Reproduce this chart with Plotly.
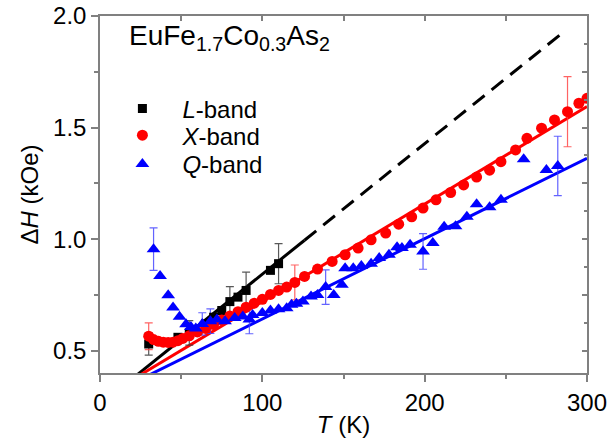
import plotly.graph_objects as go

# ---------------- data ----------------
L_T = [30, 48, 55, 65, 70, 75, 80, 85, 90, 105, 110]
L_H = [0.53, 0.56, 0.58, 0.62, 0.65, 0.68, 0.72, 0.74, 0.77, 0.86, 0.89]
L_err = [0.05, 0, 0.055, 0, 0, 0, 0.067, 0, 0.082, 0, 0.09]

X_T = [30, 33, 36, 39, 42, 45, 48, 51, 55, 60, 65, 70, 75, 80, 85, 90, 95, 100,
       105, 110, 115, 120, 126, 134, 143, 151, 159, 167, 176, 184, 192, 199, 207,
       216, 224, 232, 240, 247, 256, 263, 272, 280, 288, 295, 300]
X_H = [0.565, 0.55, 0.542, 0.538, 0.537, 0.538, 0.545, 0.555, 0.567, 0.584, 0.60,
       0.617, 0.638, 0.655, 0.675, 0.695, 0.713, 0.73, 0.752, 0.77, 0.785, 0.806,
       0.833, 0.866, 0.90, 0.93, 0.96, 0.997, 1.027, 1.067, 1.10, 1.139, 1.176,
       1.209, 1.243, 1.278, 1.309, 1.347, 1.40, 1.452, 1.497, 1.534, 1.571, 1.609, 1.631]
X_err = {30: 0.06, 120: 0.078, 288: 0.157}

Q_T = [33, 37, 42, 45, 49, 53, 56, 59, 63, 68, 72, 77, 83, 88, 92, 94, 100, 105,
       110, 115, 118, 121, 125, 130, 134, 139, 144, 149, 151, 156, 161, 167, 172,
       178, 183, 186, 191, 199, 205, 212, 219, 226, 232, 240, 247, 261, 275, 282]
Q_H = [0.955, 0.835, 0.748, 0.693, 0.652, 0.618, 0.606, 0.60, 0.62, 0.632, 0.64,
       0.632, 0.646, 0.653, 0.64, 0.66, 0.669, 0.68, 0.686, 0.69, 0.706, 0.71, 0.72,
       0.743, 0.75, 0.785, 0.75, 0.795, 0.87, 0.87, 0.88, 0.89, 0.915, 0.93, 0.964,
       0.96, 0.975, 0.945, 0.983, 1.055, 1.058, 1.10, 1.156, 1.143, 1.176, 1.358,
       1.31, 1.328]
Q_err = {33: 0.095, 63: 0.05, 68: 0.055, 92: 0.064, 139: 0.077, 199: 0.08, 282: 0.133}

# linear fits  H = a + b*T
L_fit = (0.258, 0.00585)
X_fit = (0.283, 0.00437)
Q_fit = (0.282, 0.00360)
L_solid_end = 126
L_dash_end = 284

x_ticks = [0, 100, 200, 300]
y_ticks = [0.5, 1.0, 1.5, 2.0]

FONT = "Arial, Liberation Sans, sans-serif"
BLACK, RED, BLUE = "#000000", "#ff0000", "#0000ff"

fig = go.Figure()


def line(x0, x1, fit, color, dash="solid"):
    a, b = fit
    fig.add_trace(go.Scatter(x=[x0, x1], y=[a + b * x0, a + b * x1], mode="lines",
                             line=dict(color=color, width=3, dash=dash),
                             showlegend=False, hoverinfo="skip"))


def errbars(T, H, errs, color):
    xs = [t for t in T if t in errs]
    ys = [h for t, h in zip(T, H) if t in errs]
    es = [errs[t] for t in xs]
    fig.add_trace(go.Scatter(x=xs, y=ys, mode="markers", marker=dict(size=0.1, opacity=0),
                             error_y=dict(type="data", array=es, visible=True,
                                          color=color, thickness=1.2, width=4),
                             showlegend=False, hoverinfo="skip"))


# fit lines
line(0, L_solid_end, L_fit, BLACK)
line(L_solid_end, L_dash_end, L_fit, BLACK, dash="15px,9px")
line(0, 300, X_fit, RED)
line(0, 300, Q_fit, BLUE)

# error bars
errbars(L_T, L_H, {t: e for t, e in zip(L_T, L_err) if e > 0}, "rgba(60,60,60,0.85)")
errbars(X_T, X_H, X_err, "rgba(255,60,60,0.8)")
errbars(Q_T, Q_H, Q_err, "rgba(60,60,255,0.8)")

# markers (each in its own legend box, to match the row spacing)
SP = "&nbsp;&nbsp;&nbsp;"
fig.add_trace(go.Scatter(x=L_T, y=L_H, mode="markers", name=SP + "<i>L</i>-band",
                         marker=dict(symbol="square", size=9, color=BLACK), legend="legend"))
fig.add_trace(go.Scatter(x=X_T, y=X_H, mode="markers", name=SP + "<i>X</i>-band",
                         marker=dict(symbol="circle", size=11, color=RED), legend="legend2"))
fig.add_trace(go.Scatter(x=Q_T, y=Q_H, mode="markers", name=SP + "<i>Q</i>-band",
                         marker=dict(symbol="triangle-up", size=12, color=BLUE), legend="legend3"))

# dummy trace for mirrored axes
fig.add_trace(go.Scatter(x=[], y=[], xaxis="x2", yaxis="y2", showlegend=False))

AX = "#808080"
LEG = dict(x=0.046, xanchor="left", yanchor="middle", bgcolor="rgba(0,0,0,0)",
           font=dict(size=24), itemsizing="trace")
fig.update_layout(
    width=611, height=440,
    margin=dict(l=100, r=24, t=16, b=67, autoexpand=False),
    paper_bgcolor="white", plot_bgcolor="white",
    font=dict(family=FONT, size=24, color="black"),
    showlegend=True,
    legend=dict(LEG, y=0.740),
    legend2=dict(LEG, y=0.665),
    legend3=dict(LEG, y=0.584),
    xaxis=dict(range=[0, 300], tickvals=x_ticks, ticks="outside", ticklen=7,
               tickwidth=1.5, tickcolor=AX, showline=True, linecolor=AX, linewidth=1.5,
               showgrid=False, zeroline=False, automargin=False, ticklabeloverflow="allow",
               minor=dict(dtick=50, ticks="outside", ticklen=4, tickcolor=AX, tickwidth=1.5),
               title=dict(text="<i>T</i> (K)", standoff=2, font=dict(size=24)),
               tickfont=dict(size=24)),
    yaxis=dict(range=[0.4, 2.0], tickvals=y_ticks, ticktext=["0.5", "1.0", "1.5", "2.0"],
               ticks="outside", ticklen=7, tickwidth=1.5, tickcolor=AX, showline=True,
               linecolor=AX, linewidth=1.5, showgrid=False, zeroline=False, automargin=False,
               ticklabeloverflow="allow",
               minor=dict(tickvals=[0.75, 1.25, 1.75], ticks="outside", ticklen=4,
                          tickcolor=AX, tickwidth=1.5),
               title=dict(text="Δ<i>H</i> (kOe)", standoff=8, font=dict(size=24)),
               tickfont=dict(size=24)),
    xaxis2=dict(range=[0, 300], overlaying="x", side="top", anchor="y2", showline=True,
                linecolor=AX, linewidth=1.5, ticks="inside", ticklen=5, tickcolor=AX,
                tickwidth=1.5, dtick=50, showticklabels=False, showgrid=False,
                zeroline=False, automargin=False),
    yaxis2=dict(range=[0.4, 2.0], overlaying="y", side="right", anchor="x2", showline=True,
                linecolor=AX, linewidth=1.5, ticks="inside", ticklen=5, tickcolor=AX,
                tickwidth=1.5, dtick=0.25, tick0=0.5, showticklabels=False, showgrid=False,
                zeroline=False, automargin=False,
                minor=dict(dtick=0.125, ticks="inside", ticklen=3, tickcolor=AX, tickwidth=1.5)),
    annotations=[dict(text="EuFe<sub>1.7</sub>Co<sub>0.3</sub>As<sub>2</sub>",
                      xref="paper", yref="paper", x=0.055, y=0.995, xanchor="left",
                      yanchor="top", showarrow=False, font=dict(size=28))],
)

# remove the browser's default 8px body margin so the figure fills the window exactly
fig.write_html("out.html", config={"displayModeBar": False},
               post_script="document.body.style.margin='0';document.body.style.overflow='hidden';")
